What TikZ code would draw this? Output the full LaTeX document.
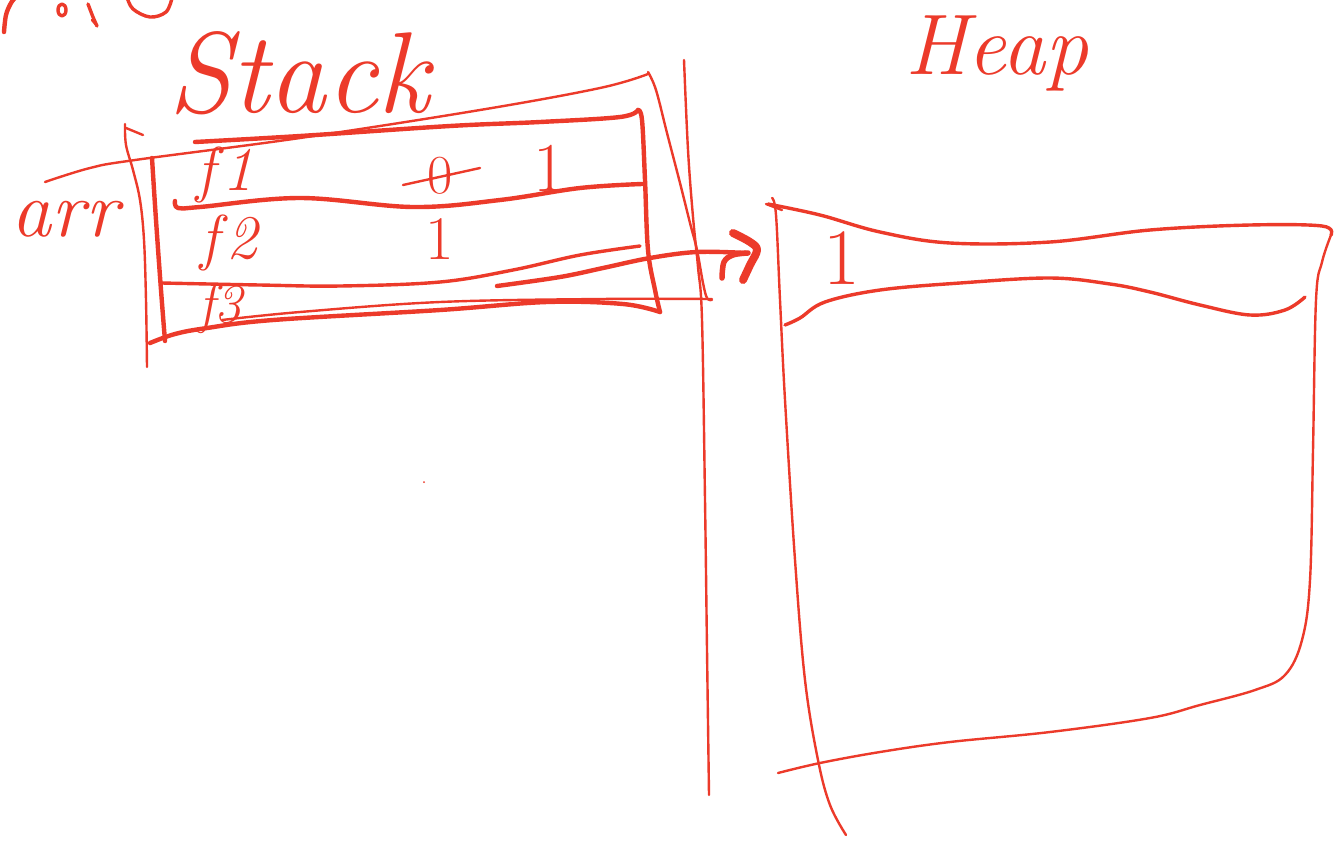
\documentclass[tikz,border=0pt]{standalone}
\begin{document}
\definecolor{sk}{RGB}{236,58,42}
\begin{tikzpicture}[x=1pt,y=-1pt,
  thin/.style={draw=sk, line width=2.4pt, line cap=round, line join=round},
  med/.style={draw=sk, line width=3.4pt, line cap=round, line join=round},
  thick/.style={draw=sk, line width=4.4pt, line cap=round, line join=round},
  heavy/.style={draw=sk, line width=8pt, line cap=round, line join=round},
  hand/.style={text=sk, inner sep=0pt, outer sep=0pt},
  sm/.style={smooth, tension=0.6}]
\fill[white] (0,0) rectangle (1340,847);
\useasboundingbox (0,0) rectangle (1340,847);
\clip (0,0) rectangle (1340,847);

% cut-off scribbles at top left
\draw[thick] plot[sm] coordinates {(4,32) (6,15) (11,3) (16,-3)};
\draw[med] (62,10) ellipse (4 and 6);
\draw[med] plot[sm] coordinates {(88,4) (93,17) (97,26)};
\draw[thin] (92,20) -- (97,26);
\draw[med] plot[sm] coordinates {(127,-3) (133,9) (150,17) (166,12) (172,-2)};

% titles
\node[hand, anchor=base west, font=\fontsize{115}{115}\selectfont\itshape] (stacklbl) at (168,112) {Stack};
\node[hand, anchor=base west, font=\fontsize{86}{86}\selectfont\itshape] (heaplbl) at (905,74) {Heap};
\node[hand, anchor=base west, font=\fontsize{80}{80}\selectfont\itshape] (arrlbl) at (12,236) {arr};

% stack: outer thin frame
\draw[thin] plot[sm] coordinates {(45,182) (90,168) (135,160) (300,138) (480,110) (600,88) (648,74)};
\draw[thin] plot[sm] coordinates {(648,72) (656,90) (667,133) (680,183) (690,223) (697,250) (703,283) (707,298) (712,300)};
\draw[thin] plot[sm] coordinates {(125,124) (126,145) (133,170) (140,200) (144,240) (146,300) (147,367)};
\draw[thin] (126,128) -- (143,135);
\draw[thin] plot[sm] coordinates {(222,320) (300,312) (440,302) (600,299) (712,299)};
% long vertical divider
\draw[thin] plot[sm] coordinates {(684,60) (688,150) (693,217) (698,267) (702,320) (705,500) (707,650) (709,795)};

% stack: inner thick box
\draw[thick] plot[sm] coordinates {(195,142) (300,136) (450,126) (540,122) (620,117) (638,110)};
\draw[thick] plot[sm] coordinates {(638,110) (642,120) (645,180) (648,250) (655,290) (660,312)};
\draw[thick] plot[sm] coordinates {(660,312) (623,304) (547,302) (440,310) (273,320) (207,328) (175,334) (150,343)};
\draw[thick] plot[sm] coordinates {(152,158) (156,220) (161,290) (165,341)};

% row separators
\draw[thick] plot[sm] coordinates {(175,201) (178,208) (200,207) (300,198) (413,207) (500,200) (580,188) (642,184)};
\draw[med] plot[sm] coordinates {(162,283) (260,285) (340,286) (440,282) (513,270) (580,255) (640,246)};

% row contents
\node[hand, anchor=base west, font=\fontsize{62}{62}\selectfont\itshape] (f1) at (196,190) {f\kern8pt1};
\node[hand, anchor=base, font=\fontsize{55}{55}\selectfont] (v0) at (440,193) {0};
\draw[thin] (403,185) -- (480,168);
\node[hand, anchor=base, font=\fontsize{70}{70}\selectfont] (v1a) at (550,191) {1};
\node[hand, anchor=base west, font=\fontsize{62}{62}\selectfont\itshape] (f2) at (200,258) {f\kern8pt2};
\node[hand, anchor=base, font=\fontsize{62}{62}\selectfont] (v1b) at (440,259) {1};
\node[hand, anchor=base west, font=\fontsize{55}{55}\selectfont\itshape] (f3) at (198,322) {f3};

% pointer arrow to the heap
\coordinate (arrS) at (497,286);
\coordinate (arrE) at (747,253);
\draw[thick] plot[sm] coordinates {(arrS) (560,277) (603,268) (650,258) (697,252) (arrE)};
\draw[heavy] plot[sm] coordinates {(733,233) (750,242) (757,250) (750,265) (743,280)};
\draw[draw=sk, line width=5.5pt, line cap=round] plot[sm] coordinates {(722,278) (724,262) (733,255) (748,253)};

% heap box
\draw[thin] (766,204) -- (782,210);
\draw[thin] plot[sm] coordinates {(772,198) (776,215) (780,300) (785,400) (795,560) (805,680) (818,760) (830,805) (846,835)};
\draw[med] plot[sm] coordinates {(768,204) (820,215) (880,232) (950,243) (1050,242) (1150,230) (1250,225) (1322,226) (1331,235)};
\draw[thin] plot[sm] coordinates {(1331,235) (1322,262) (1316,300) (1313,450) (1310,580) (1302,640) (1285,675) (1255,690) (1200,705) (1150,718) (1050,732) (950,742) (880,752) (820,763) (778,773)};
\draw[med] plot[sm] coordinates {(785,325) (800,318) (825,302) (880,290) (960,283) (1050,278) (1110,284) (1150,292) (1200,305) (1250,315) (1285,310) (1305,297)};
\node[hand, anchor=base, font=\fontsize{80}{80}\selectfont] (h1) at (842,284) {1};

% stray dot
\fill[sk] (424,482) circle (1pt);
\end{tikzpicture}
\end{document}
